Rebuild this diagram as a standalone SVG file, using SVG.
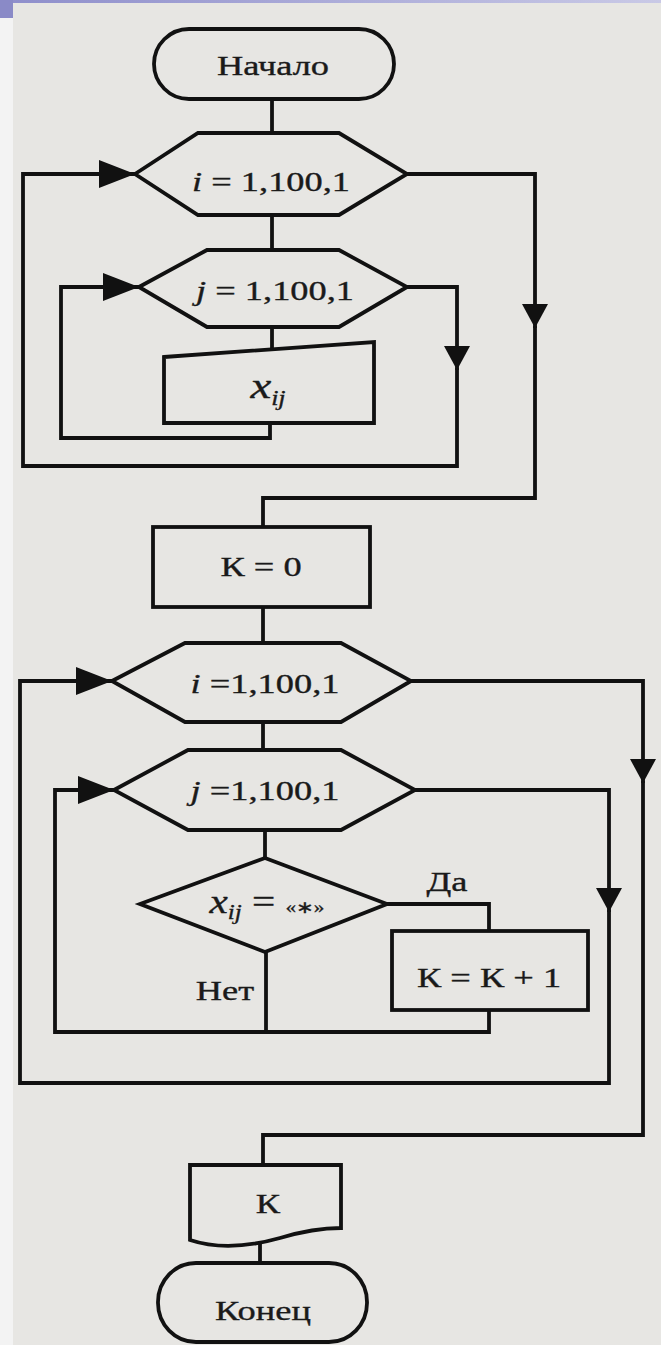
<svg xmlns="http://www.w3.org/2000/svg" width="661" height="1345" viewBox="0 0 661 1345">
<style>
.shape{fill:none;stroke:#111;stroke-width:3.8;stroke-linejoin:miter}
.line{fill:none;stroke:#111;stroke-width:3.8;stroke-linejoin:miter}
.t{font-family:"Liberation Serif","Times New Roman",serif;font-size:28px;fill:#1a1a1a;stroke:#1a1a1a;stroke-width:0.35;text-anchor:middle}
.it{font-style:italic}
.sub{font-size:20px;font-style:italic}
.q{font-size:17px}
</style>
<defs>
<linearGradient id="hdr" x1="0" y1="0" x2="1" y2="0">
<stop offset="0" stop-color="#8e8ecb"/>
<stop offset="1" stop-color="#c9c9e6"/>
</linearGradient>
<marker id="arrH" viewBox="0 0 36 28" refX="36" refY="14" markerWidth="36" markerHeight="28" orient="auto" markerUnits="userSpaceOnUse">
<path d="M0,0 L36,14 L0,28 Z" fill="#111"/>
</marker>
<marker id="arrV" viewBox="0 0 24 26" refX="24" refY="13" markerWidth="24" markerHeight="26" orient="auto" markerUnits="userSpaceOnUse">
<path d="M0,0 L24,13 L0,26 Z" fill="#111"/>
</marker>
</defs>
<rect x="0" y="0" width="661" height="1345" fill="#f3f3f3"/>
<rect x="13" y="3" width="648" height="1342" fill="#e7e6e3"/>
<rect x="0" y="0" width="661" height="3" fill="url(#hdr)"/>
<rect x="0" y="0" width="13" height="18" fill="#8a8ac7"/>

<g id="connectors">
<path class="line" d="M272,99 V133"/>
<path class="line" d="M272,215 V250"/>
<path class="line" d="M272,327 V350"/>
<path class="line" d="M270,423 V438 H61 V287 H139" marker-end="url(#arrH)"/>
<path class="line" d="M407,287 H457 V370" marker-end="url(#arrV)"/>
<path class="line" d="M457,368 V466 H23 V174 H135" marker-end="url(#arrH)"/>
<path class="line" d="M407,174 H535 V328" marker-end="url(#arrV)"/>
<path class="line" d="M535,326 V498 H263 V527"/>
<path class="line" d="M263,607 V643"/>
<path class="line" d="M263,722 V750"/>
<path class="line" d="M265,830 V858"/>
<path class="line" d="M387,904 H489 V931"/>
<path class="line" d="M489,1010 V1032 H55 V790 H114" marker-end="url(#arrH)"/>
<path class="line" d="M266,952 V1032"/>
<path class="line" d="M415,790 H609 V912" marker-end="url(#arrV)"/>
<path class="line" d="M609,910 V1083 H20 V681 H112" marker-end="url(#arrH)"/>
<path class="line" d="M411,681 H643 V783" marker-end="url(#arrV)"/>
<path class="line" d="M643,781 V1135 H263 V1165"/>
<path class="line" d="M260,1244 V1263"/>
</g>

<g id="start">
<rect class="shape" x="154" y="29" width="240" height="70" rx="35" ry="35"/>
<text class="t" transform="translate(273,75) scale(1.3,1)">Начало</text>
</g>

<g id="loop-i1">
<polygon class="shape" points="135,174 198,133 339,133 407,174 339,215 198,215"/>
<text class="t" transform="translate(271,191) scale(1.3,1)"><tspan class="it">i</tspan> = 1,100,1</text>
</g>

<g id="loop-j1">
<polygon class="shape" points="139,287 207,250 339,250 407,287 339,327 207,327"/>
<text class="t" transform="translate(275,300) scale(1.3,1)"><tspan class="it">j</tspan> = 1,100,1</text>
</g>

<g id="input-x">
<polygon class="shape" points="164,357 374,342 374,423 164,423"/>
<text class="t" transform="translate(268,398) scale(1.3,1)"><tspan class="it" font-size="36">x</tspan><tspan class="sub" font-size="22" dy="7">ij</tspan></text>
</g>

<g id="init-k">
<rect class="shape" x="153" y="527" width="217" height="80"/>
<text class="t" transform="translate(261,576) scale(1.3,1)">К = 0</text>
</g>

<g id="loop-i2">
<polygon class="shape" points="112,681 185,643 341,643 411,681 341,722 185,722"/>
<text class="t" transform="translate(265,693) scale(1.3,1)"><tspan class="it">i</tspan> =1,100,1</text>
</g>

<g id="loop-j2">
<polygon class="shape" points="114,790 188,750 341,750 415,790 341,830 188,830"/>
<text class="t" transform="translate(265,800) scale(1.3,1)"><tspan class="it">j</tspan> =1,100,1</text>
</g>

<g id="decision">
<polygon class="shape" points="265,858 387,904 265,952 140,904"/>
<text class="t" transform="translate(267,913) scale(1.25,1)"><tspan class="it" font-size="33">x</tspan><tspan class="sub" dy="6">ij</tspan><tspan dy="-6" font-size="33"> = </tspan><tspan class="q">«∗»</tspan></text>
<text class="t" transform="translate(447,891) scale(1.3,1)">Да</text>
<text class="t" transform="translate(225,1000) scale(1.3,1)">Нет</text>
</g>

<g id="inc-k">
<rect class="shape" x="392" y="931" width="196" height="79"/>
<text class="t" transform="translate(489,987) scale(1.3,1)">К = К + 1</text>
</g>

<g id="output-k">
<path class="shape" d="M190,1165 H341 V1228 C320,1228 300,1232 280,1238 C255,1245 220,1250 190,1240 Z"/>
<text class="t" transform="translate(268,1213) scale(1.3,1)">К</text>
</g>

<g id="end">
<rect class="shape" x="158" y="1263" width="209" height="79" rx="38" ry="39"/>
<text class="t" transform="translate(263,1320) scale(1.3,1)">Конец</text>
</g>
</svg>
